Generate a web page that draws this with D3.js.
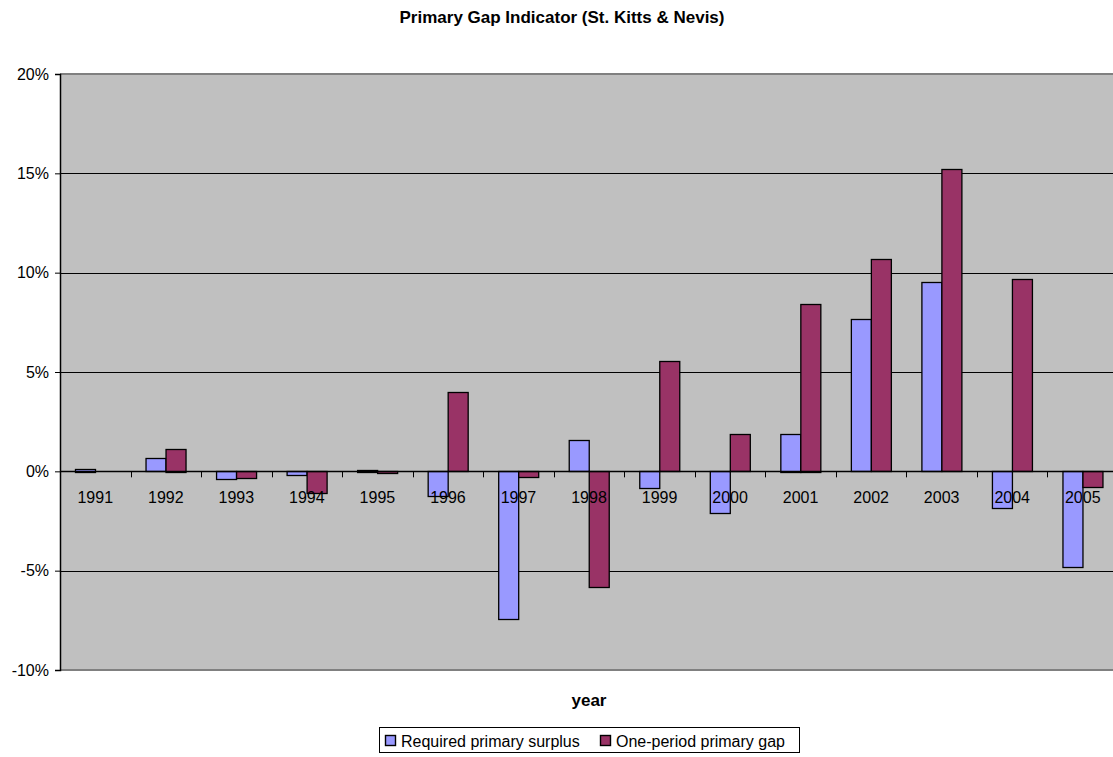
<!DOCTYPE html>
<html>
<head>
<meta charset="utf-8">
<script src="https://cdn.jsdelivr.net/npm/d3@7/dist/d3.min.js"></script>
<style>
  html, body { margin: 0; padding: 0; background: #fff; overflow: hidden; }
  svg { display: block; font-family: "Liberation Sans", Arial, sans-serif; }
</style>
</head>
<body>
<svg id="chart" width="1113" height="757"></svg>
<script>
// Primary gap indicator data (% of GDP)
const years = ["1991","1992","1993","1994","1995","1996","1997","1998","1999","2000","2001","2002","2003","2004","2005"];
const requiredSurplus = [0.13, 0.65, -0.40, -0.20, 0.08, -1.26, -7.47, 1.56, -0.84, -2.11, 1.89, 7.67, 9.51, -1.86, -4.82];
const primaryGap = [0.0, 1.14, -0.34, -1.11, -0.10, 3.99, -0.29, -5.86, 5.54, 1.88, 8.44, 10.69, 15.22, 9.68, -0.81];
const seriesNames = ["Required primary surplus", "One-period primary gap"];
const seriesColors = ["#9999FF", "#993366"];
const yTicks = [-10, -5, 0, 5, 10, 15, 20];

const svg = d3.select("#chart");
const plot = { left: 60, right: 1118, top: 74, bottom: 670 };

const x = d3.scaleBand().domain(years).range([plot.left, plot.right]).padding(0);
const groupW = x.bandwidth() / 1.75;
const x1 = d3.scaleBand().domain(seriesNames)
  .range([(x.bandwidth() - groupW) / 2, (x.bandwidth() + groupW) / 2]).padding(0);
const y = d3.scaleLinear().domain([-10, 20]).range([plot.bottom, plot.top]);

// plot background
svg.append("rect")
  .attr("x", plot.left).attr("y", plot.top)
  .attr("width", plot.right - plot.left).attr("height", plot.bottom - plot.top)
  .attr("fill", "#C0C0C0");

// horizontal gridlines
svg.append("g")
  .selectAll("line")
  .data(yTicks.filter(d => d !== -10 && d !== 20 && d !== 0))
  .join("line")
  .attr("x1", plot.left).attr("x2", plot.right)
  .attr("y1", d => Math.round(y(d)) + 0.5).attr("y2", d => Math.round(y(d)) + 0.5)
  .attr("stroke", "#000").attr("stroke-width", 1);

// plot frame top / bottom
[plot.top, plot.bottom].forEach(v => {
  svg.append("line")
    .attr("x1", plot.left).attr("x2", plot.right)
    .attr("y1", v).attr("y2", v)
    .attr("stroke", "#808080").attr("stroke-width", 2);
});

// bars
const rows = years.map((yr, i) => ({ year: yr, values: [requiredSurplus[i], primaryGap[i]] }));
const groups = svg.append("g").selectAll("g")
  .data(rows).join("g")
  .attr("transform", d => `translate(${x(d.year)},0)`);
groups.selectAll("rect")
  .data(d => d.values.map((v, k) => ({ v, k })).filter(d => d.v !== 0))
  .join("rect")
  .attr("x", d => Math.round(x1(seriesNames[d.k])) + 0.5)
  .attr("width", Math.round(x1.bandwidth()))
  .attr("y", d => Math.round(y(Math.max(0, d.v))) + 0.5)
  .attr("height", d => Math.max(0.5, Math.round(Math.abs(y(d.v) - y(0)))))
  .attr("fill", d => seriesColors[d.k])
  .attr("stroke", "#000").attr("stroke-width", 1.3);

// y axis
const yAxis = svg.append("g")
  .attr("transform", `translate(${plot.left},0)`)
  .call(d3.axisLeft(y).tickValues(yTicks).tickSize(5).tickPadding(6).tickFormat(d => d + "%"));
yAxis.select(".domain").attr("stroke", "#000").attr("stroke-width", 1.5);
yAxis.selectAll(".tick line").attr("stroke", "#000");
yAxis.selectAll("text").attr("font-size", 16).attr("fill", "#000");

// x axis along zero
const xAxis = svg.append("g")
  .attr("transform", `translate(0,${Math.round(y(0)) + 0.5})`)
  .call(d3.axisBottom(x).tickSize(0).tickPadding(20));
xAxis.select(".domain").remove();
xAxis.selectAll("text").attr("font-size", 16).attr("fill", "#000");
svg.append("line")
  .attr("x1", plot.left).attr("x2", plot.right)
  .attr("y1", Math.round(y(0)) + 0.5).attr("y2", Math.round(y(0)) + 0.5)
  .attr("stroke", "#000").attr("stroke-width", 1.3);
svg.append("g").selectAll("line")
  .data(years.slice(1))
  .join("line")
  .attr("x1", d => Math.round(x(d)) + 0.5).attr("x2", d => Math.round(x(d)) + 0.5)
  .attr("y1", y(0)).attr("y2", y(0) + 6)
  .attr("stroke", "#000");

// titles
svg.append("text")
  .attr("x", 562).attr("y", 23)
  .attr("text-anchor", "middle")
  .attr("font-size", 17).attr("font-weight", "bold")
  .text("Primary Gap Indicator (St. Kitts & Nevis)");
svg.append("text")
  .attr("x", (plot.left + plot.right) / 2).attr("y", 706)
  .attr("text-anchor", "middle")
  .attr("font-size", 17).attr("font-weight", "bold")
  .text("year");

// legend
const legend = svg.append("g");
legend.append("rect")
  .attr("x", 379.5).attr("y", 727.5).attr("width", 420).attr("height", 25)
  .attr("fill", "#fff").attr("stroke", "#000");
const items = [{ x: 385, name: seriesNames[0], c: seriesColors[0] },
               { x: 600, name: seriesNames[1], c: seriesColors[1] }];
items.forEach(it => {
  legend.append("rect")
    .attr("x", it.x + 0.5).attr("y", 735.5).attr("width", 10).attr("height", 10)
    .attr("fill", it.c).attr("stroke", "#000").attr("stroke-width", 1.4);
  legend.append("text")
    .attr("x", it.x + 16).attr("y", 746.5)
    .attr("font-size", 16).text(it.name);
});
</script>
</body>
</html>
